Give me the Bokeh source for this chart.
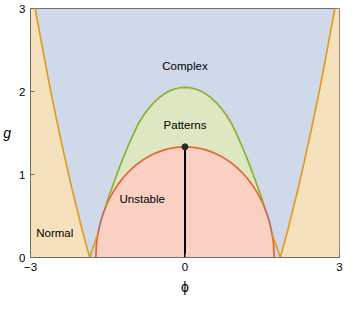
from bokeh.plotting import figure
from bokeh.models import Range1d, FixedTicker
from bokeh.embed import file_html
from bokeh.resources import INLINE
from bokeh.core.properties import value

# ---- data ----
x_ticks = [-3, 0, 3]
y_ticks = [0, 1, 2, 3]

# outer ("Normal" boundary), left arm; right arm is the mirror image
phi_outer = [-2.91, -2.8, -2.7, -2.6, -2.5, -2.4, -2.3, -2.2, -2.1, -2.0, -1.9, -1.85, -1.78, -1.70]
g_outer = [3.0, 2.63, 2.30, 1.98, 1.68, 1.39, 1.11, 0.84, 0.59, 0.34, 0.11, 0.0, 0.13, 0.27]

# "Patterns" upper boundary (half, symmetric)
phi_green = [0.0, 0.1, 0.2, 0.3, 0.4, 0.5, 0.6, 0.7, 0.8, 0.9, 1.0, 1.1, 1.2, 1.3, 1.4, 1.5, 1.54]
g_green = [2.05, 2.045, 2.03, 2.007, 1.972, 1.927, 1.87, 1.80, 1.716, 1.618, 1.49, 1.35, 1.20, 1.04, 0.87, 0.70, 0.615]

# "Unstable" boundary (half, symmetric)
phi_red = [0.0, 0.1, 0.2, 0.3, 0.4, 0.5, 0.6, 0.7, 0.8, 0.9, 1.0, 1.1, 1.2, 1.3, 1.4, 1.5, 1.54, 1.6, 1.65, 1.7, 1.72, 1.732]
g_red = [1.333, 1.331, 1.324, 1.313, 1.297, 1.276, 1.251, 1.219, 1.182, 1.139, 1.089, 1.030, 0.961, 0.881, 0.785, 0.667, 0.610, 0.510, 0.405, 0.255, 0.157, 0.0]

peak_phi = 0.0
peak_g = 1.333

labels = ["Complex", "Patterns", "Unstable", "Normal"]
label_phi = [0.0, 0.0, -0.83, -2.53]
label_g = [2.31, 1.60, 0.70, 0.29]

# colours (Mathematica default palette)
C_BLUE = "#5E81B5"
C_ORANGE = "#E19C24"
C_GREEN = "#8FB032"
C_RED = "#EB6235"
F_BLUE = "#CFD9E9"
F_ORANGE = "#F6E1BD"
F_GREEN = "#DDE7C1"
F_RED = "#F9D0C2"


def full(phis, gs):
    xs = [-v for v in reversed(phis)] + list(phis[1:])
    ys = list(reversed(gs)) + list(gs[1:])
    return xs, ys


p = figure(width=344, height=297, x_range=Range1d(-3, 3), y_range=Range1d(0, 3),
           output_backend="svg", toolbar_location=None,
           min_border_left=26, min_border_right=5, min_border_top=8, min_border_bottom=40)
p.background_fill_color = F_BLUE
p.border_fill_color = "white"
p.grid.visible = False
p.outline_line_color = "#6E6E6E"

# Normal regions
n_end = phi_outer.index(-1.85) + 1
lx = [-3, -3] + phi_outer[:n_end]
ly = [0, 3] + g_outer[:n_end]
p.patch(lx, ly, fill_color=F_ORANGE, line_color=None)
p.patch([-v for v in lx], ly, fill_color=F_ORANGE, line_color=None)

# Patterns region
gx, gy = full(phi_green, g_green)
p.patch(gx + [gx[-1], gx[0]], gy + [0, 0], fill_color=F_GREEN, line_color=None)

# Unstable region
rx, ry = full(phi_red, g_red)
p.patch(rx, ry, fill_color=F_RED, line_color=None)

# boundary lines
p.line(rx, ry, line_color=C_RED, line_width=1.7)
seg = [i for i, v in enumerate(phi_red) if 1.54 <= v <= 1.7]
sx = [phi_red[i] for i in seg]
sy = [g_red[i] for i in seg]
p.line(sx, sy, line_color=C_BLUE, line_width=1.2, line_alpha=0.5)
p.line([-v for v in sx], sy, line_color=C_BLUE, line_width=1.2, line_alpha=0.5)
p.line(gx, gy, line_color=C_GREEN, line_width=1.7)
p.line(phi_outer, g_outer, line_color=C_ORANGE, line_width=1.7)
p.line([-v for v in phi_outer], g_outer, line_color=C_ORANGE, line_width=1.7)

# critical point and line
p.line([peak_phi, peak_phi], [0, peak_g], line_color="black", line_width=2)
p.scatter([peak_phi], [peak_g], size=6, color="#2A2A2A")

p.text(label_phi, label_g, text=labels, text_align="center", text_baseline="middle",
       text_font=value("Liberation Sans"), text_font_size="11.5px", text_color="black")

for ax in (p.xaxis, p.yaxis):
    ax.axis_line_color = "#6E6E6E"
    ax.major_tick_line_color = "#6E6E6E"
    ax.major_tick_in = 4
    ax.major_tick_out = 0
    ax.minor_tick_line_color = None
    ax.major_label_text_font = "Liberation Sans"
    ax.major_label_text_font_size = "11.5px"
    ax.major_label_text_color = "black"
    ax.axis_label_text_color = "black"
    ax.axis_label_text_font = "Liberation Sans"

p.xaxis.ticker = FixedTicker(ticks=x_ticks)
p.yaxis.ticker = FixedTicker(ticks=y_ticks)
p.xaxis.major_label_overrides = {-3: "\u22123", 0: "0", 3: "3"}
p.xaxis.major_label_standoff = 5
p.yaxis.major_label_standoff = 5
p.xaxis.axis_label = "\u03d5"
p.xaxis.axis_label_text_font_style = "normal"
p.xaxis.axis_label_text_font_size = "14px"
p.xaxis.axis_label_standoff = 5
p.yaxis.axis_label = "g"
p.yaxis.axis_label_text_font_style = "italic"
p.yaxis.axis_label_text_font_size = "14px"
p.yaxis.axis_label_standoff = 5
p.yaxis.axis_label_orientation = "horizontal"

open("out.html", "w").write(file_html(p, INLINE))
